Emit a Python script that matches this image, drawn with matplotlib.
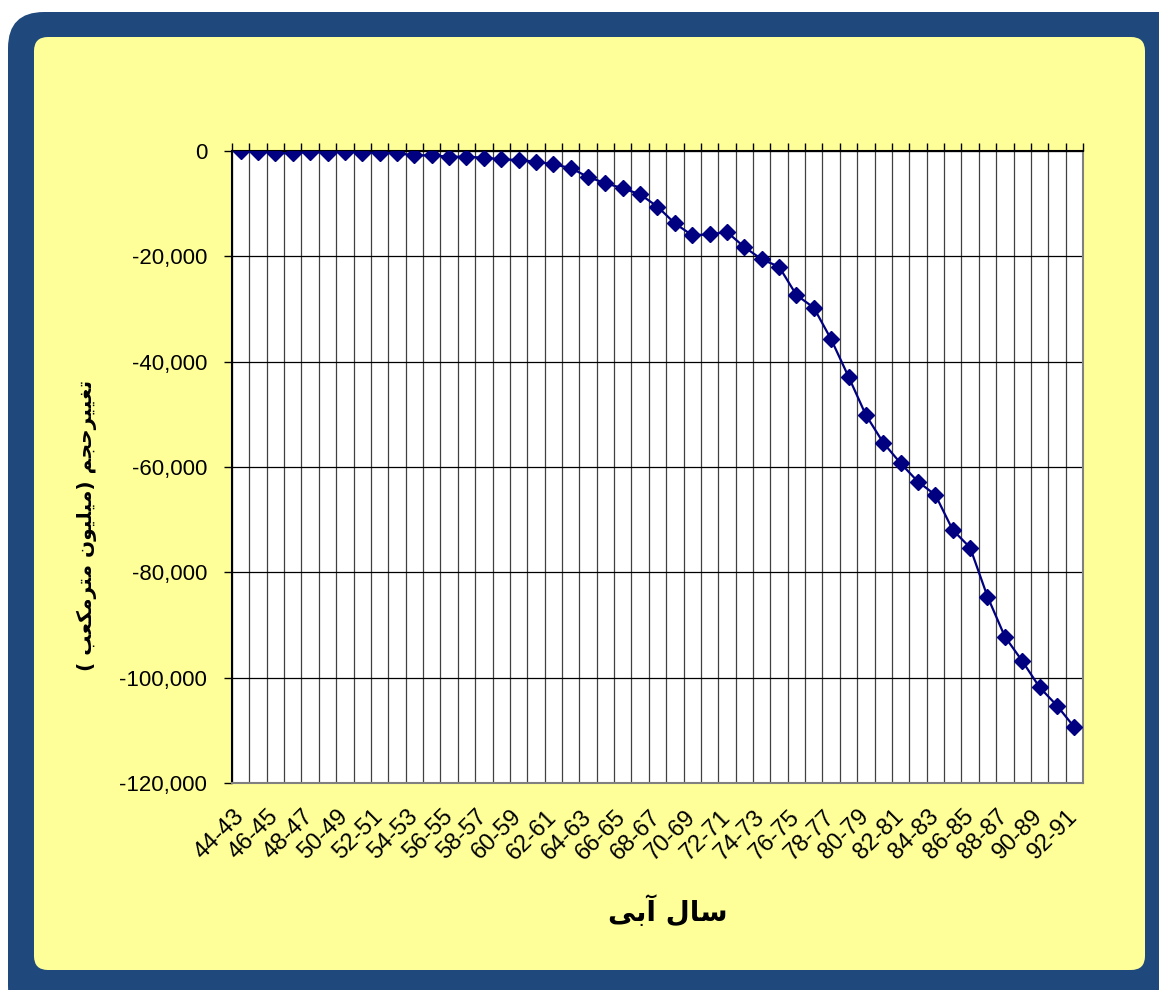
import matplotlib
matplotlib.use("Agg")
import matplotlib.pyplot as plt
from matplotlib.patches import FancyBboxPatch
from matplotlib.ticker import FuncFormatter
import numpy as np

# -------------------------------------------------------------------------------------------------
# Data (water years and cumulative volume change, million m3)

years = ["44-43", "45-44", "46-45", "47-46", "48-47", "49-48", "50-49", "51-50", "52-51", "53-52",
         "54-53", "55-54", "56-55", "57-56", "58-57", "59-58", "60-59", "61-60", "62-61", "63-62",
         "64-63", "65-64", "66-65", "67-66", "68-67", "69-68", "70-69", "71-70", "72-71", "73-72",
         "74-73", "75-74", "76-75", "77-76", "78-77", "79-78", "80-79", "81-80", "82-81", "83-82",
         "84-83", "85-84", "86-85", "87-86", "88-87", "89-88", "90-89", "91-90", "92-91"]

volume_change = [0, -120, -380, -440, -190, -320, -190, -320, -320, -440,
                 -820, -820, -1080, -1080, -1270, -1580, -1710, -2030, -2530, -3230,
                 -4940, -6100, -7090, -8230, -10570, -13740, -16010, -15830, -15380, -18230,
                 -20570, -21970, -27350, -29750, -35770, -42860, -50140, -55390, -59300, -62800,
                 -65300, -71960, -75300, -84600, -92200, -96830, -101830, -105300, -109400]

y_ticks = [0, -20000, -40000, -60000, -80000, -100000, -120000]

x_title = "سال آبی"
y_title = "تغییرحجم (میلیون مترمکعب )"

# -------------------------------------------------------------------------------------------------
# matplotlib does no Arabic shaping, so map letters to presentation forms and put them in visual order
# forms: (isolated, final, initial, medial); two entries = joins only to the right
FORMS = {
    "ا": ("\uFE8D", "\uFE8E"), "آ": ("\uFE81", "\uFE82"),
    "ب": ("\uFE8F", "\uFE90", "\uFE91", "\uFE92"), "ت": ("\uFE95", "\uFE96", "\uFE97", "\uFE98"),
    "ج": ("\uFE9D", "\uFE9E", "\uFE9F", "\uFEA0"), "ح": ("\uFEA1", "\uFEA2", "\uFEA3", "\uFEA4"),
    "ر": ("\uFEAD", "\uFEAE"), "س": ("\uFEB1", "\uFEB2", "\uFEB3", "\uFEB4"),
    "ع": ("\uFEC9", "\uFECA", "\uFECB", "\uFECC"), "غ": ("\uFECD", "\uFECE", "\uFECF", "\uFED0"),
    "ل": ("\uFEDD", "\uFEDE", "\uFEDF", "\uFEE0"), "م": ("\uFEE1", "\uFEE2", "\uFEE3", "\uFEE4"),
    "ن": ("\uFEE5", "\uFEE6", "\uFEE7", "\uFEE8"), "و": ("\uFEED", "\uFEEE"),
    "ی": ("\uFBFC", "\uFBFD", "\uFBFE", "\uFBFF"), "ک": ("\uFB8E", "\uFB8F", "\uFB90", "\uFB91"),
}

def shape_fa(text):
    out = []
    for i, c in enumerate(text):
        if c not in FORMS:
            out.append(c)
            continue
        prev = text[i - 1] if i > 0 else ""
        nxt = text[i + 1] if i + 1 < len(text) else ""
        join_prev = prev in FORMS and len(FORMS[prev]) == 4
        join_next = len(FORMS[c]) == 4 and nxt in FORMS
        f = FORMS[c]
        if join_prev and join_next:
            out.append(f[3])
        elif join_prev:
            out.append(f[1])
        elif join_next:
            out.append(f[2])
        else:
            out.append(f[0])
    vis = "".join(reversed(out))
    return vis.translate(str.maketrans("()", ")("))

# -------------------------------------------------------------------------------------------------
W, H = 1159, 990
fig = plt.figure(figsize=(W / 100, H / 100), dpi=100)
fig.patch.set_facecolor("white")

# Background frame (pixel coordinates)
bg = fig.add_axes([0, 0, 1, 1], zorder=0)
bg.set_xlim(0, W)
bg.set_ylim(H, 0)
bg.axis("off")
bg.add_patch(FancyBboxPatch((8, 12), 1190, 1010, boxstyle="round,pad=0,rounding_size=36",
                            facecolor="#1f497d", edgecolor="none"))
bg.add_patch(FancyBboxPatch((34, 37), 1111, 933, boxstyle="round,pad=0,rounding_size=14",
                            facecolor="#ffff99", edgecolor="none"))

# Plot area
x0, x1, y0, y1 = 232, 1083, 151, 783
ax = fig.add_axes([x0 / W, 1 - y1 / H, (x1 - x0) / W, (y1 - y0) / H], zorder=2)
ax.set_facecolor("white")

x = np.arange(len(years))
ax.plot(x, volume_change, color="#000080", linewidth=1.6, marker="D", markersize=8.5,
        markerfacecolor="#000080", markeredgecolor="#000080", zorder=3)

ax.set_xlim(-0.5, len(years) - 0.5)
ax.set_ylim(-120000, 0)
ax.set_yticks(y_ticks)
ax.yaxis.set_major_formatter(FuncFormatter(lambda v, p: "{:,.0f}".format(v)))

ax.set_xticks(x[::2])
ax.set_xticklabels(years[::2], rotation=45, ha="right", va="center", rotation_mode="anchor",
                   fontfamily="Liberation Sans", fontsize=17)
ax.set_xticks(np.arange(-0.5, len(years), 1), minor=True)
ax.tick_params(axis="x", which="major", length=0, pad=22)
ax.tick_params(axis="x", which="minor", top=True, bottom=False, direction="out", length=6,
               width=1, color="black")
ax.tick_params(axis="y", direction="out", length=6, width=1, pad=12)
for lbl in ax.get_yticklabels():
    lbl.set_fontfamily("Liberation Sans")
    lbl.set_fontsize(16)

ax.grid(True, which="minor", axis="x", color="#404040", linewidth=0.9)
ax.grid(True, which="major", axis="y", color="black", linewidth=0.9)
ax.set_axisbelow(True)

ax.spines["top"].set_color("black")
ax.spines["left"].set_color("black")
ax.spines["right"].set_color("#808080")
ax.spines["bottom"].set_color("#808080")
for s in ax.spines.values():
    s.set_linewidth(1.5)

ax.set_xlabel(shape_fa(x_title), fontfamily="DejaVu Sans", fontweight="bold", fontsize=20)
ax.xaxis.set_label_coords((668 - x0) / (x1 - x0), 1 - (896 - y0) / (y1 - y0))
ax.set_ylabel(shape_fa(y_title), fontfamily="DejaVu Sans", fontweight="bold", fontsize=14.5)
ax.yaxis.set_label_coords((97 - x0) / (x1 - x0), 1 - (525 - y0) / (y1 - y0))

fig.savefig("out.png", dpi=100)
